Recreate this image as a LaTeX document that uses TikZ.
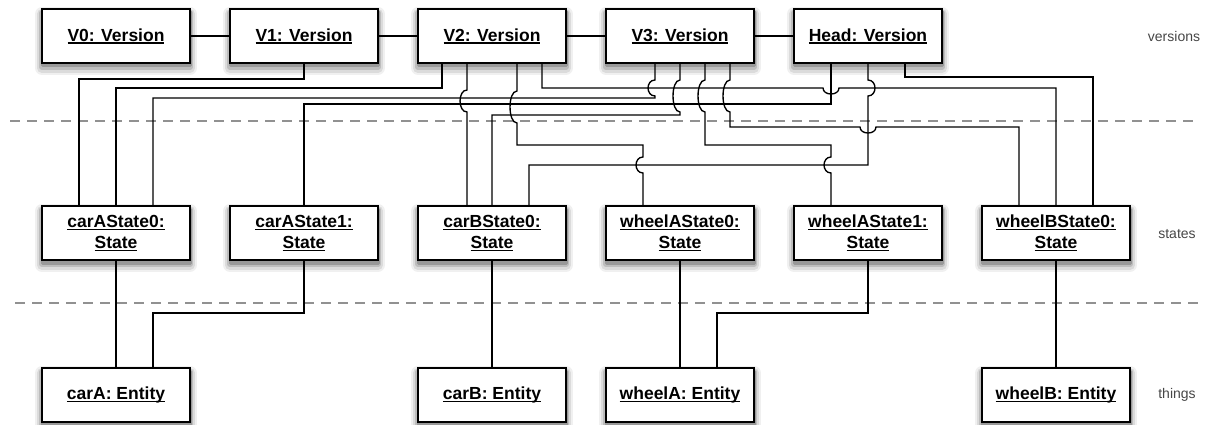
\documentclass[tikz,border=0pt]{standalone}
\usepackage{fontspec}
\setmainfont{Liberation Sans}
\definecolor{lbl}{RGB}{70,70,70}
\definecolor{dsh}{RGB}{145,145,145}
\newcommand{\myul}[1]{\setbox0\hbox{#1}\rlap{\rule[-2.6pt]{\wd0}{1.3pt}}\box0}
\begin{document}
\begin{tikzpicture}[x=1pt,y=1pt,
  obj/.style={draw=black, line width=1.8pt, fill=white, minimum width=148pt, minimum height=54pt,
    inner sep=0pt, align=center, font=\bfseries\fontsize{17.5}{21}\selectfont,
    preaction={draw=black!6, fill=black!6, line width=14pt, line join=round, transform canvas={yshift=-5pt}},
    preaction={draw=black!14, fill=black!14, line width=10pt, line join=round, transform canvas={yshift=-5pt}},
    preaction={draw=black!26, fill=black!26, line width=6pt, line join=round, transform canvas={yshift=-4pt}},
    preaction={draw=black!40, fill=black!40, line width=3pt, line join=round, transform canvas={yshift=-3pt}}},
  conn/.style={line width=1.35pt, draw=black},
  sep/.style={draw=dsh, line width=1.2pt, dash pattern=on 10pt off 7pt},
  lay/.style={text=lbl, font=\fontsize{14}{16}\selectfont}]

\useasboundingbox (0,0) rectangle (1208,-425);

% separators
\draw[sep] (10,-121) -- (1200,-121);
\draw[sep] (15,-303) -- (1200,-303);

% versions
\node[obj] (V0) at (116,-36) {\myul{V0: Version}};
\node[obj] (V1) at (304,-36) {\myul{V1: Version}};
\node[obj] (V2) at (492,-36) {\myul{V2: Version}};
\node[obj] (V3) at (680,-36) {\myul{V3: Version}};
\node[obj] (VH) at (868,-36) {\myul{Head: Version}};

% states
\node[obj] (cA0) at (116,-233) {\myul{carAState0:}\\\myul{State}};
\node[obj] (cA1) at (304,-233) {\myul{carAState1:}\\\myul{State}};
\node[obj] (cB0) at (492,-233) {\myul{carBState0:}\\\myul{State}};
\node[obj] (wA0) at (680,-233) {\myul{wheelAState0:}\\\myul{State}};
\node[obj] (wA1) at (868,-233) {\myul{wheelAState1:}\\\myul{State}};
\node[obj] (wB0) at (1056,-233) {\myul{wheelBState0:}\\\myul{State}};

% entities
\node[obj] (cA) at (116,-395) {\myul{carA: Entity}};
\node[obj] (cB) at (492,-395) {\myul{carB: Entity}};
\node[obj] (wA) at (680,-395) {\myul{wheelA: Entity}};
\node[obj] (wB) at (1056,-395) {\myul{wheelB: Entity}};

% layer labels
\node[lay] (lv) at (1174,-36) {versions};
\node[lay] (ls) at (1177,-234) {states};
\node[lay] (lt) at (1177,-395) {things};

% version chain
\draw[conn] (V0) -- (V1);
\draw[conn] (V1) -- (V2);
\draw[conn] (V2) -- (V3);
\draw[conn] (V3) -- (VH);

% versions -> states
\draw[conn] (V1.south) -- (304,-79) -| ([xshift=-37pt]cA0.north);
\draw[conn] ([xshift=-50pt]V2.south) -- (442,-88) -| (cA0.north);
\draw[conn] ([xshift=-25pt]V3.south) -- (655,-80) .. controls (645.7,-80) and (645.7,-96) .. (655,-96) -- (655,-98) -| ([xshift=37pt]cA0.north);
\draw[conn] ([xshift=-37pt]VH.south) -- (831,-104) -| (cA1.north);
\draw[conn] ([xshift=50pt]V2.south) -- (542,-88) -- (823,-88) .. controls (823,-96) and (839,-96) .. (839,-88) -| (wB0.north);
\draw[conn] ([xshift=-25pt]V2.south) -- (467,-90) .. controls (457.7,-90) and (457.7,-112) .. (467,-112) -- ([xshift=-25pt]cB0.north);
\draw[conn] ([xshift=25pt]V2.south) -- (517,-91) .. controls (507.7,-91) and (507.7,-123) .. (517,-123) -- (517,-145) -- (643,-145) -- (643,-157) .. controls (633.7,-157) and (633.7,-173) .. (643,-173) -- ([xshift=-37pt]wA0.north);
\draw[conn] (V3.south) -- (680,-80) .. controls (670.7,-80) and (670.7,-112) .. (680,-112) -- (680,-115) -| (cB0.north);
\draw[conn] ([xshift=25pt]V3.south) -- (705,-80) .. controls (695.7,-80) and (695.7,-112) .. (705,-112) -- (705,-145) -- (831,-145) -- (831,-157) .. controls (821.7,-157) and (821.7,-173) .. (831,-173) -- ([xshift=-37pt]wA1.north);
\draw[conn] ([xshift=50pt]V3.south) -- (730,-80) .. controls (720.7,-80) and (720.7,-112) .. (730,-112) -- (730,-127) -- (860,-127) .. controls (860,-135) and (876,-135) .. (876,-127) -| ([xshift=-37pt]wB0.north);
\draw[conn] (VH.south) -- (868,-80) .. controls (877.3,-80) and (877.3,-96) .. (868,-96) -- (868,-165) -| ([xshift=37pt]cB0.north);
\draw[conn] ([xshift=37pt]VH.south) -- (905,-77) -| ([xshift=37pt]wB0.north);

% states -> entities
\draw[conn] (cA0) -- (cA);
\draw[conn] (cA1.south) -- (304,-313) -| ([xshift=37pt]cA.north);
\draw[conn] (cB0) -- (cB);
\draw[conn] (wA0) -- (wA);
\draw[conn] (wA1.south) -- (868,-313) -| ([xshift=37pt]wA.north);
\draw[conn] (wB0) -- (wB);
\end{tikzpicture}
\end{document}
